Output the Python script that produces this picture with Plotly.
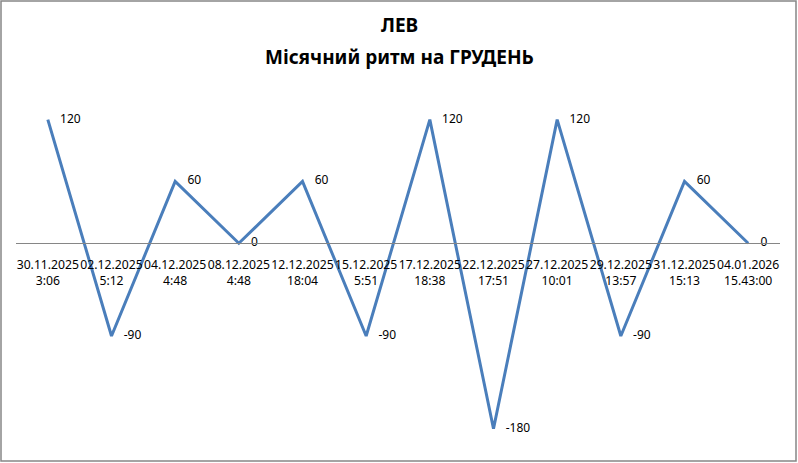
import plotly.graph_objects as go

# дані місячного ритму
dates = ['30.11.2025', '02.12.2025', '04.12.2025', '08.12.2025', '12.12.2025', '15.12.2025',
         '17.12.2025', '22.12.2025', '27.12.2025', '29.12.2025', '31.12.2025', '04.01.2026']
times = ['3:06', '5:12', '4:48', '4:48', '18:04', '5:51',
         '18:38', '17:51', '10:01', '13:57', '15:13', '15.43:00']
values = [120, -90, 60, 0, 60, -90, 120, -180, 120, -90, 60, 0]

labels = [d + '<br>' + t for d, t in zip(dates, times)]
x = list(range(len(values)))

W, H = 798, 463
left, right, top, bottom = 16, 780, 100, 450
ymin, ymax = -200.7, 139.1
pw, ph = right - left, bottom - top

fig = go.Figure()

fig.add_trace(go.Scatter(x=x, y=values,
                         mode='lines+markers+text',
                         line=dict(color='rgb(74,126,187)', width=3),
                         marker=dict(size=18, color='rgba(0,0,0,0)'),
                         text=[str(v) for v in values],
                         textposition='middle right',
                         textfont=dict(family='Noto Sans', size=12, color='black'),
                         cliponaxis=False,
                         hoverinfo='skip',
                         showlegend=False))

# вісь x проходить через нуль
fig.update_xaxes(range=[-0.5, len(values) - 0.5],
                 tickmode='array', tickvals=x, ticktext=labels, tickangle=0,
                 tickfont=dict(family='Noto Sans', size=12.2, color='black'),
                 showgrid=False, zeroline=False,
                 showline=True, linecolor='rgb(134,134,134)', linewidth=1,
                 ticks='', ticklabelstandoff=10, anchor='free',
                 position=(0 - ymin) / (ymax - ymin), automargin=False)
fig.update_yaxes(range=[ymin, ymax], visible=False)

# рамка навколо діаграми
fig.add_shape(type='rect', xref='paper', yref='paper',
              x0=(1 - left) / pw, x1=(796 - left) / pw,
              y0=(bottom - 461) / ph, y1=(bottom - 1) / ph,
              line=dict(color='rgb(134,134,134)', width=1.5))

# заголовок у два рядки
for txt, py in [('ЛЕВ', 25), ('Місячний ритм на ГРУДЕНЬ', 57)]:
    fig.add_annotation(text='<b>' + txt + '</b>', xref='paper', yref='paper',
                       x=0.5 + (W / 2 - (left + right) / 2) / pw, y=(bottom - py) / ph,
                       xanchor='center', yanchor='middle', showarrow=False,
                       font=dict(family='Noto Sans', size=19, color='black'))

fig.update_layout(width=W, height=H,
                  margin=dict(l=left, r=W - right, t=top, b=H - bottom),
                  paper_bgcolor='white', plot_bgcolor='white')

fig.write_html('out.html', config={'displayModeBar': False},
               post_script="document.body.style.margin='0';")
